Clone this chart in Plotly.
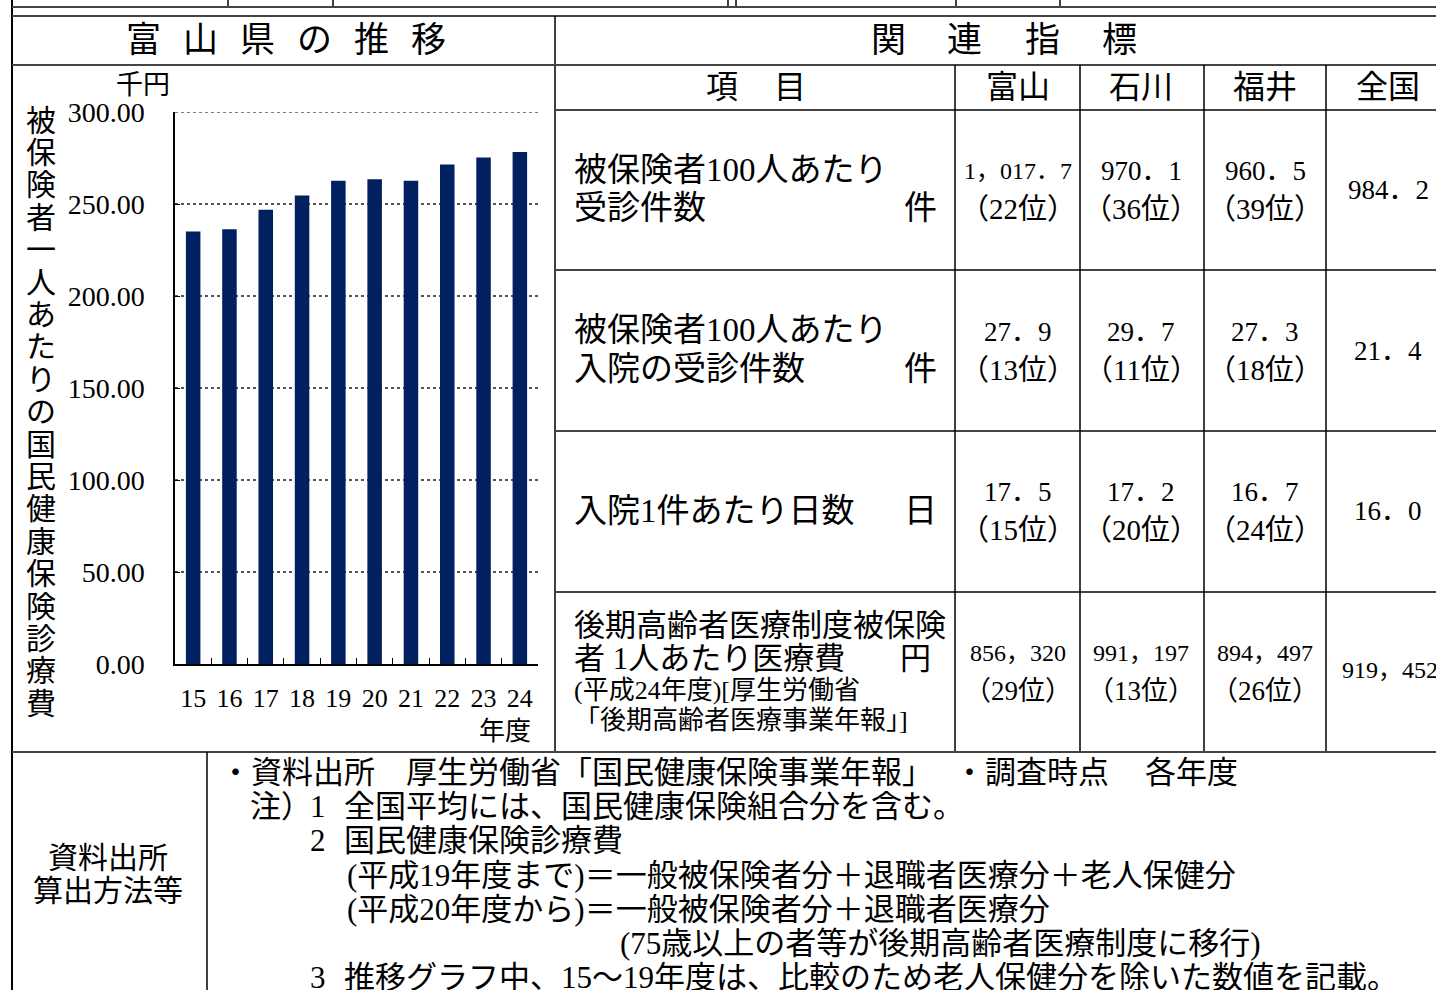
import plotly.graph_objects as go

# ---------------- data ----------------
years = ["15", "16", "17", "18", "19", "20", "21", "22", "23", "24"]
cost_per_insured = [235.1, 236.3, 246.9, 254.6, 262.6, 263.4, 262.6, 271.5, 275.3, 278.3]
y_ticks = [0, 50, 100, 150, 200, 250, 300]

prefs = ["富山", "石川", "福井", "全国"]
toyama_vals = [1017.7, 27.9, 17.5, 856320]
toyama_rank = [22, 13, 15, 29]
ishikawa_vals = [970.1, 29.7, 17.2, 991197]
ishikawa_rank = [36, 11, 20, 13]
fukui_vals = [960.5, 27.3, 16.7, 894497]
fukui_rank = [39, 18, 24, 26]
national_vals = [984.2, 21.4, 16.0, 919452]
val_decimals = [1, 1, 1, 0]

W, H = 1436, 990
SERIF = "Liberation Serif, Noto Sans CJK JP, serif"


def X(x):
    return x / W


def Y(y):
    return 1 - y / H


shapes = []
anns = []


def hline(y, x0, x1, color="#444", width=2):
    shapes.append(dict(type="line", xref="paper", yref="paper", x0=X(x0), x1=X(x1),
                       y0=Y(y), y1=Y(y), line=dict(color=color, width=width)))


def vline(x, y0, y1, color="black", width=1.5):
    shapes.append(dict(type="line", xref="paper", yref="paper", x0=X(x), x1=X(x),
                       y0=Y(y0), y1=Y(y1), line=dict(color=color, width=width)))


def txt(x, y, s, size=30, xa="left", ya="middle"):
    anns.append(dict(x=X(x), y=Y(y), xref="paper", yref="paper", text=s, showarrow=False,
                     xanchor=xa, yanchor=ya, font=dict(size=size, family=SERIF, color="black")))


def fmt(v, d):
    s = f"{v:,.{d}f}"
    return s.replace(",", "，").replace(".", "．")


# ---------------- frame lines ----------------
vline(12, 0, 990, width=2)
for xv in [228, 333, 728, 736, 956, 1060]:
    vline(xv, 0, 7)
hline(7, 12, 1436)
hline(16, 12, 1436)
vline(555, 16, 752)
hline(65, 12, 1436)
hline(110, 555, 1436)
for yv in [270, 431, 592]:
    hline(yv, 555, 1436)
for xv in [955, 1080, 1204, 1326]:
    vline(xv, 65, 752)
hline(752, 12, 1436)
vline(207, 752, 990)

# top gridline of the chart (at the axis maximum)
shapes.append(dict(type="line", xref="x domain", yref="y", x0=0, x1=1,
                   y0=y_ticks[-1], y1=y_ticks[-1],
                   line=dict(color="#555", width=1.5, dash="dot")))

# ---------------- headers ----------------
for i, ch in enumerate("富山県の推移"):
    txt(143 + 57 * i, 40, ch, size=35, xa="center")
for i, ch in enumerate("関連指標"):
    txt(888 + 77 * i, 40, ch, size=35, xa="center")
txt(722, 87, "項", size=32, xa="center")
txt(790, 87, "目", size=32, xa="center")
col_x = [1018, 1141, 1265, 1388]
for cx, p in zip(col_x, prefs):
    txt(cx, 87, p, size=32, xa="center")

# ---------------- table rows ----------------
txt(572, 170, "被保険者100人あたり", size=33)
txt(572, 208, "受診件数", size=33)
txt(920, 208, "件", size=33, xa="center")
txt(572, 330, "被保険者100人あたり", size=33)
txt(572, 369, "入院の受診件数", size=33)
txt(920, 369, "件", size=33, xa="center")
txt(572, 511, "入院1件あたり日数", size=33)
txt(920, 511, "日", size=33, xa="center")
txt(572, 625, "後期高齢者医療制度被保険", size=31)
txt(572, 658, "者 1人あたり医療費", size=31)
txt(915, 658, "円", size=31, xa="center")
txt(572, 690, "(平成24年度)[厚生労働省", size=26)
txt(572, 720, "「後期高齢者医療事業年報」]", size=26)

row_centers = [190, 351, 511, 672]
for r, rc in enumerate(row_centers):
    big = r < 3
    for cx, vals, ranks in zip(col_x[:3], [toyama_vals, ishikawa_vals, fukui_vals],
                               [toyama_rank, ishikawa_rank, fukui_rank]):
        s = fmt(vals[r], val_decimals[r])
        if big:
            size = 24 if len(s) > 6 else 27
        else:
            size = 24
        txt(cx, rc - 19, s, size=size, xa="center")
        txt(cx, rc + 19, f"（{ranks[r]}位）", size=29 if big else 27, xa="center")
    if big:
        txt(col_x[3], rc, fmt(national_vals[r], val_decimals[r]), size=27, xa="center")
    else:
        txt(1340, rc - 2, fmt(national_vals[r], val_decimals[r]), size=24, xa="left")

# ---------------- chart texts ----------------
txt(143, 85, "千円", size=27, xa="center")
for i, ch in enumerate("被保険者一人あたりの国民健康保険診療費"):
    txt(41, 120 + 32.4 * i, ch, size=30, xa="center")
txt(505, 731, "年度", size=26, xa="center")

# ---------------- bottom notes ----------------
txt(108, 857, "資料出所", size=30, xa="center")
txt(108, 890, "算出方法等", size=30, xa="center")
txt(218, 772, "・資料出所　厚生労働省「国民健康保険事業年報」", size=31)
txt(952, 772, "・調査時点", size=31)
txt(1143, 772, "各年度", size=31)
txt(248, 806, "注）", size=31)
txt(318, 806, "1", size=31, xa="center")
txt(342, 806, "全国平均には、国民健康保険組合分を含む。", size=31)
txt(318, 840, "2", size=31, xa="center")
txt(342, 840, "国民健康保険診療費", size=31)
txt(345, 875, "(平成19年度まで)＝一般被保険者分＋退職者医療分＋老人保健分", size=31)
txt(345, 909, "(平成20年度から)＝一般被保険者分＋退職者医療分", size=31)
txt(618, 943, "(75歳以上の者等が後期高齢者医療制度に移行)", size=31)
txt(318, 977, "3", size=31, xa="center")
txt(342, 977, "推移グラフ中、15～19年度は、比較のため老人保健分を除いた数値を記載。", size=31)

# ---------------- chart ----------------
fig = go.Figure()
fig.add_trace(go.Bar(x=years, y=cost_per_insured, width=0.4,
                     marker=dict(color="#002060", line=dict(width=0)),
                     hoverinfo="x+y"))

fig.update_layout(
    width=W, height=H,
    margin=dict(l=0, r=0, t=0, b=0, pad=0, autoexpand=False),
    paper_bgcolor="white", plot_bgcolor="white",
    showlegend=False,
    shapes=shapes, annotations=anns,
    font=dict(family=SERIF, color="black"),
    xaxis=dict(domain=[X(175), X(538)], type="category", showline=True, automargin=False,
               linecolor="black", linewidth=1.5, ticks="inside", tickson="boundaries",
               ticklen=6, tickcolor="black", showgrid=False, tickangle=0,
               tickfont=dict(size=26, family=SERIF, color="black"),
               ticklabelstandoff=10, fixedrange=True),
    yaxis=dict(domain=[Y(664), Y(112)], range=[0, 300], tickvals=y_ticks, automargin=False,
               tickformat=".2f", showline=True, linecolor="black", linewidth=1.5,
               ticks="inside", ticklen=5, tickcolor="black", showgrid=True,
               gridcolor="#555", gridwidth=1.5, griddash="dot", zeroline=False,
               tickfont=dict(size=28, family=SERIF, color="black"),
               ticklabelstandoff=23, fixedrange=True),
)

fig.write_html("out.html", config={"displayModeBar": False},
               post_script="document.body.style.margin='0';document.body.style.overflow='hidden';")
